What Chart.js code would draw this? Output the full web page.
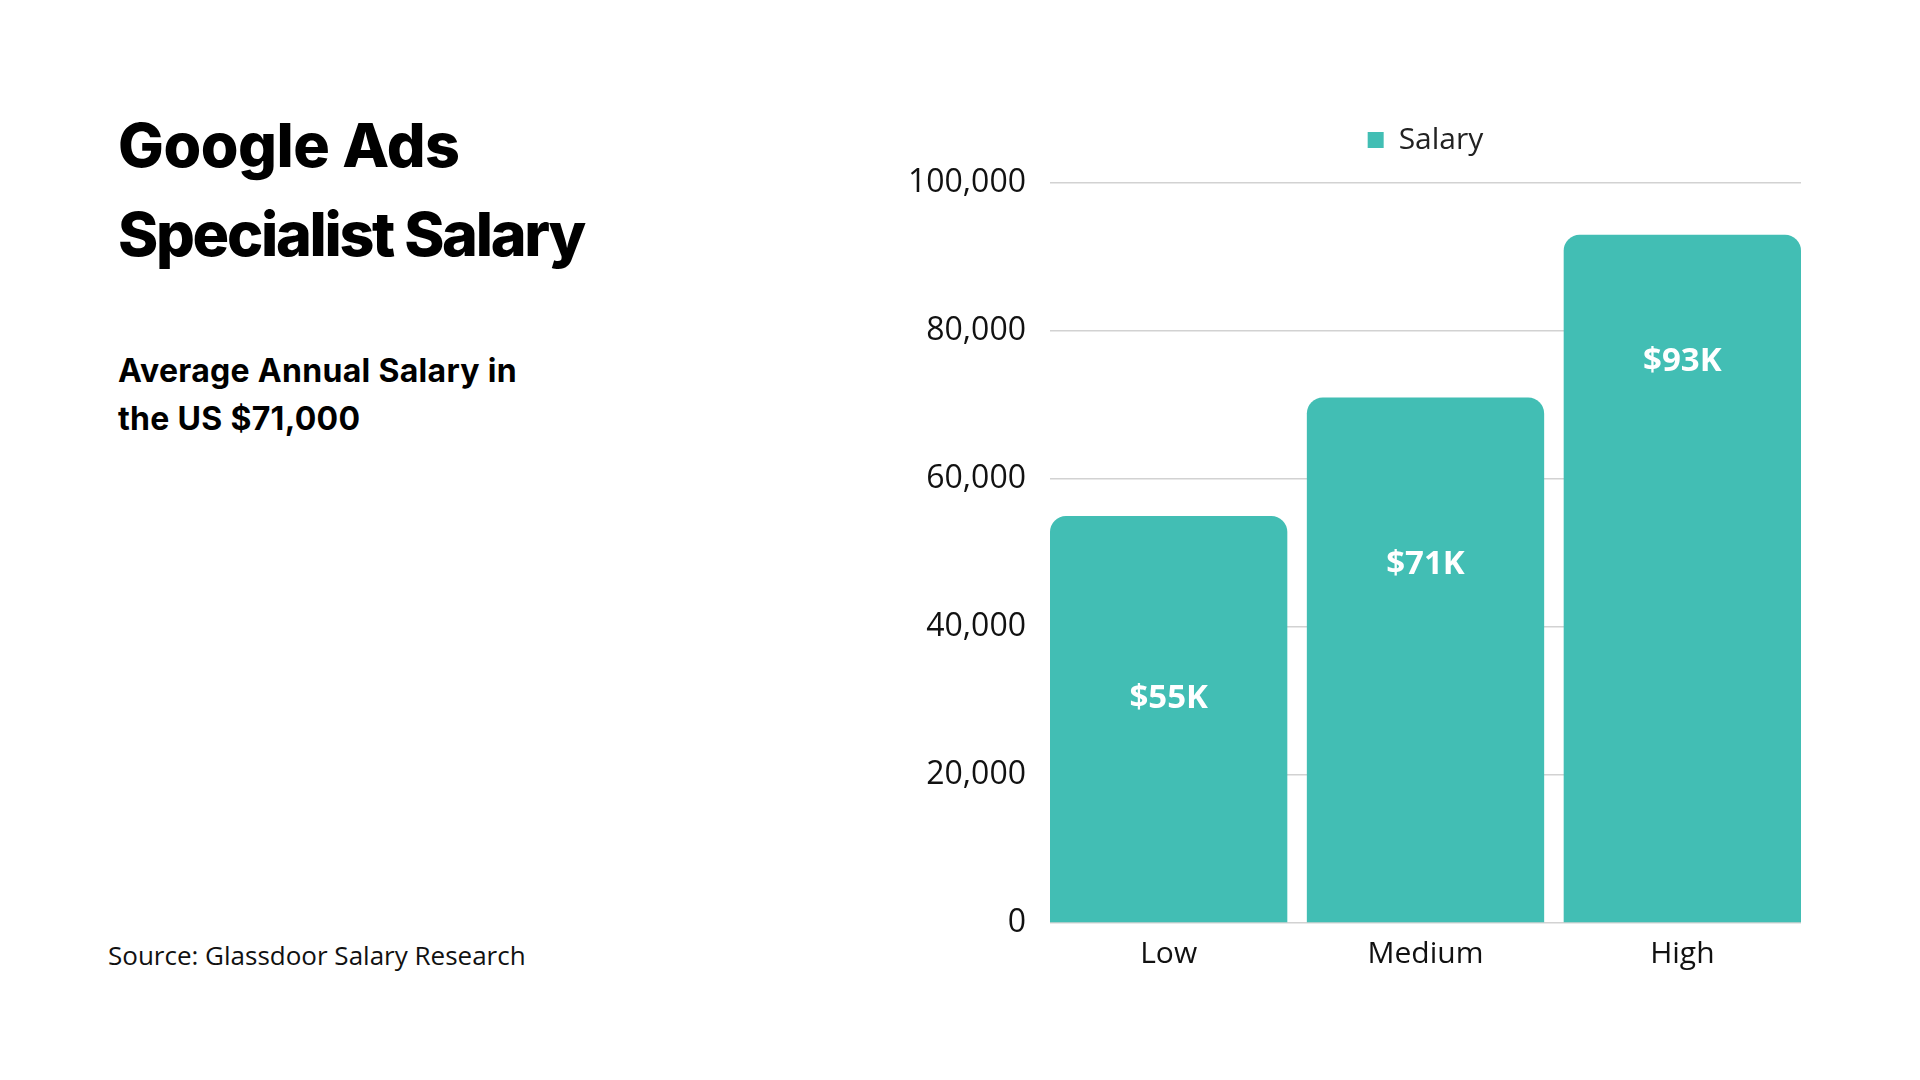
<!DOCTYPE html>
<html>
<head>
<meta charset="utf-8">
<script src="https://cdn.jsdelivr.net/npm/chart.js@4.4.1/dist/chart.umd.min.js"></script>
<style>
  html, body { margin: 0; padding: 0; background: #fff; width: 1920px; height: 1080px; overflow: hidden; }
  .title { position: absolute; left: 118px; top: 101px; font-family: Inter, sans-serif; font-weight: 800;
           font-size: 61px; line-height: 89px; letter-spacing: -0.5px; color: #000; }
  .title .l2 { letter-spacing: -2.3px; }
  .sub { position: absolute; left: 118px; top: 347px; font-family: Inter, sans-serif; font-weight: 700;
         font-size: 32px; line-height: 48px; letter-spacing: 0.3px; color: #000; }
  .source { position: absolute; left: 108px; top: 938px; font-family: "Open Sans", sans-serif;
            font-size: 26px; line-height: 34px; color: #111; }
  #wrap { position: absolute; left: 900px; top: 100px; width: 1055px; height: 877px; }
</style>
</head>
<body>
<div class="title">Google Ads<br><span class="l2">Specialist Salary</span></div>
<div class="sub">Average Annual Salary in<br>the US $71,000</div>
<div class="source">Source: Glassdoor Salary Research</div>
<div id="wrap"><canvas id="salaryChart"></canvas></div>
<script>
const categories = ['Low', 'Medium', 'High'];
const salaryValues = [55000, 71000, 93000];
// where the white value labels sit inside each bar (in axis units)
const labelAnchors = [30300, 48500, 75800];
const yTicks = [0, 20000, 40000, 60000, 80000, 100000];

const teal = '#42BEB4';

// bars sit flush with both ends of the plot, so x is a numeric index axis
const barPoints = salaryValues.map((v, i) => ({ x: i, y: v }));
const edge = 0.462;

const valueLabels = {
  id: 'valueLabels',
  afterDatasetsDraw(chart) {
    const { ctx, scales: { y } } = chart;
    const meta = chart.getDatasetMeta(0);
    ctx.save();
    ctx.fillStyle = '#ffffff';
    ctx.font = 'bold 33px "Open Sans", sans-serif';
    ctx.textAlign = 'center';
    ctx.textBaseline = 'middle';
    meta.data.forEach((bar, i) => {
      const v = salaryValues[i];
      ctx.fillText('$' + (v / 1000) + 'K', bar.x, y.getPixelForValue(labelAnchors[i]));
    });
    ctx.restore();
  }
};

// centre the legend over the plot area instead of the whole canvas
const legendOverPlot = {
  id: 'legendOverPlot',
  afterLayout(chart) {
    const lg = chart.legend, area = chart.chartArea;
    const h = lg.height;
    lg.left = area.left;
    lg.right = area.right;
    lg.top = 15;
    lg.bottom = 15 + h;
  }
};

window.onload = () => {
  const ctx = document.getElementById('salaryChart').getContext('2d');
  new Chart(ctx, {
    type: 'bar',
    data: {
      datasets: [{
        label: 'Salary',
        data: barPoints,
        backgroundColor: teal,
        borderRadius: 16,
        borderSkipped: 'start',
        categoryPercentage: 2 * edge,
        barPercentage: 1
      }]
    },
    options: {
      responsive: true,
      maintainAspectRatio: false,
      animation: false,
      layout: { padding: { top: 33, right: 154, bottom: 0, left: 0 } },
      plugins: {
        tooltip: { enabled: false },
        legend: {
          display: true,
          position: 'top',
          labels: {
            color: '#222',
            boxWidth: 16,
            boxHeight: 16,
            padding: 10,
            font: { family: '"Open Sans", sans-serif', size: 30 }
          }
        }
      },
      scales: {
        x: {
          type: 'linear',
          min: -edge,
          max: categories.length - 1 + edge,
          offset: false,
          afterBuildTicks: scale => { scale.ticks = categories.map((c, i) => ({ value: i })); },
          grid: { display: false },
          border: { display: false },
          ticks: {
            color: '#111',
            padding: 5,
            font: { family: '"Open Sans", sans-serif', size: 30 },
            callback: v => categories[v]
          }
        },
        y: {
          min: 0,
          max: 100000,
          afterBuildTicks: scale => { scale.ticks = yTicks.map(v => ({ value: v })); },
          afterFit: scale => { scale.width = 150; },
          grid: { color: '#d2d2d2', lineWidth: 1.5, drawTicks: false },
          border: { display: false },
          ticks: {
            color: '#111',
            padding: 24,
            font: { family: '"Open Sans", sans-serif', size: 32 },
            callback: v => v.toLocaleString('en-US')
          }
        }
      }
    },
    plugins: [valueLabels, legendOverPlot]
  });
};
</script>
</body>
</html>
